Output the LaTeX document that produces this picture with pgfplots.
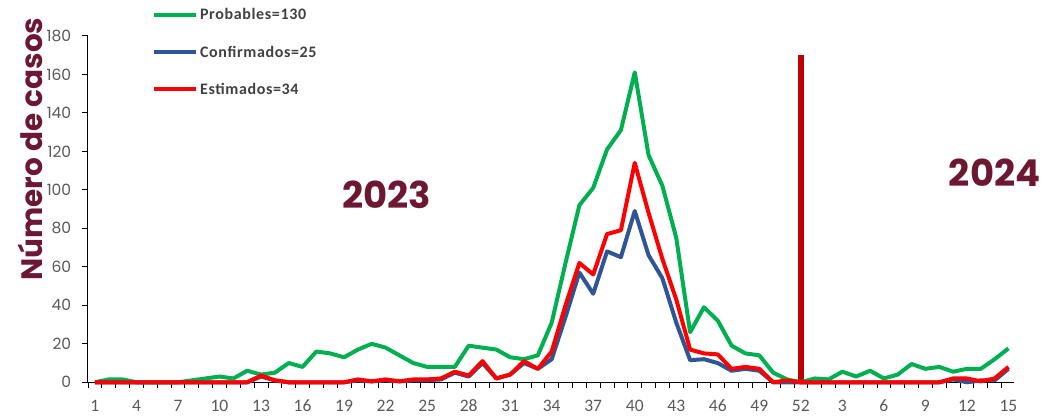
\documentclass[border=0pt]{standalone}
\usepackage{fontspec}
\setmainfont{Carlito}
\newfontfamily\pop{Poppins}
\usepackage{pgfplots}
\pgfplotsset{compat=1.18}
\definecolor{cgreen}{HTML}{00B050}
\definecolor{cblue}{HTML}{2F5597}
\definecolor{cred}{HTML}{FF0000}
\definecolor{cvline}{HTML}{C00000}
\definecolor{maroon}{HTML}{6D1832}
\definecolor{tickgray}{HTML}{595959}
\definecolor{leggray}{HTML}{404040}
\begin{document}
\begin{tikzpicture}
\path[use as bounding box] (-88pt,-34.7pt) rectangle (958pt,382.3pt);
\begin{axis}[
  at={(0pt,0pt)}, anchor=south west,
  scale only axis, width=926pt, height=346.5pt,
  xmin=-0.5, xmax=66.4, ymin=0, ymax=180,
  axis lines*=left,
  axis line style={black, line width=1pt},
  clip=false,
  tick align=outside,
  ytick={0,20,...,180},
  xtick={0,3,...,66},
  xticklabels={1,4,7,10,13,16,19,22,25,28,31,34,37,40,43,46,49,52,3,6,9,12,15},
  minor xtick={-0.5,0.5,...,66.5},
  xtick style={/pgfplots/major tick length=0pt},
  minor x tick style={black, line width=0.8pt, /pgfplots/minor tick length=5.5pt},
  ytick style={black, line width=1pt, /pgfplots/major tick length=6pt},
  /pgf/number format/assume math mode=true,
  xticklabel style={font=\fontsize{17.5}{17.5}\selectfont, text=tickgray, anchor=north, text height=12pt, text depth=0pt, yshift=-9pt},
  yticklabel style={font=\pop\fontsize{15.5}{15.5}\selectfont, text=tickgray, xshift=-9pt},
  legend style={at={(0.069,1.085)}, anchor=north west, draw=none, fill=none,
    font=\bfseries\fontsize{16}{16}\selectfont\addfontfeatures{LetterSpace=4}, text=leggray,
    row sep=20.5pt, column sep=0pt, inner sep=0pt,
    nodes={inner sep=2pt}},
  legend cell align=left,
  legend image code/.code={\draw[#1] (0pt,0pt) -- (42pt,0pt);},
]
\addplot[cvline, line width=6pt, forget plot] coordinates {(51,0) (51,170)};
\addplot[cgreen, line width=4pt, line join=round] coordinates {
(0,0) (1,1.5) (2,1.5) (3,0) (4,0) (5,0) (6,0) (7,1) (8,2) (9,3)
(10,2) (11,6) (12,4) (13,5) (14,10) (15,8) (16,16) (17,15) (18,13) (19,17)
(20,20) (21,18) (22,14) (23,10) (24,8) (25,8) (26,8) (27,19) (28,18) (29,17)
(30,13) (31,12) (32,14) (33,31) (34,62) (35,92) (36,101) (37,121) (38,131) (39,161)
(40,118) (41,102) (42,75) (43,26) (44,39) (45,32) (46,19) (47,15) (48,14) (49,5)
(50,1.5) (51,0) (52,2) (53,1.5) (54,5.5) (55,3) (56,6) (57,2) (58,4) (59,9.5)
(60,7) (61,8) (62,5.5) (63,7) (64,7) (65,12) (66,17.6)};
\addlegendentry{Probables=130}
\addplot[cblue, line width=4pt, line join=round] coordinates {
(0,0) (1,0) (2,0) (3,0) (4,0) (5,0) (6,0) (7,0) (8,0) (9,0)
(10,0) (11,0) (12,3) (13,1) (14,0) (15,0) (16,0) (17,0) (18,0) (19,1)
(20,0.5) (21,1) (22,0.5) (23,1) (24,1) (25,1.5) (26,5) (27,3) (28,10) (29,2)
(30,4) (31,10) (32,7) (33,12) (34,34) (35,57) (36,46) (37,68) (38,65) (39,89)
(40,66) (41,54) (42,31) (43,11.5) (44,12) (45,10) (46,6) (47,7) (48,6) (49,0)
(50,0) (51,0) (52,0) (53,0) (54,0) (55,0) (56,0) (57,0) (58,0) (59,0)
(60,0) (61,0) (62,1.5) (63,0) (64,1) (65,1) (66,7)};
\addlegendentry{Confirmados=25}
\addplot[cred, line width=4pt, line join=round] coordinates {
(0,0) (1,0) (2,0) (3,0) (4,0) (5,0) (6,0) (7,0) (8,0) (9,0)
(10,0) (11,0) (12,3.5) (13,1) (14,0) (15,0) (16,0) (17,0) (18,0) (19,1.5)
(20,0.5) (21,1.5) (22,0.5) (23,1.5) (24,1.5) (25,2) (26,5.5) (27,3.5) (28,11) (29,2)
(30,4) (31,11) (32,7) (33,16) (34,40) (35,62) (36,56) (37,77) (38,79) (39,114)
(40,88) (41,64) (42,43) (43,17) (44,15) (45,14.5) (46,7) (47,8) (48,7) (49,0)
(50,1) (51,0) (52,0) (53,0) (54,0) (55,0) (56,0) (57,0) (58,0) (59,0)
(60,0) (61,0) (62,2) (63,2) (64,0.5) (65,2) (66,8)};
\addlegendentry{Estimados=34}
\node[font=\pop\bfseries\fontsize{37}{37}\selectfont, text=maroon] at (axis cs:21.1,97.3) {2023};
\node[font=\pop\bfseries\fontsize{37}{37}\selectfont, text=maroon] at (axis cs:65,109) {2024};
\end{axis}
\node[rotate=90, font=\pop\bfseries\fontsize{29.5}{29.5}\selectfont, text=maroon] at (-58pt,233pt) {Número de casos};
\end{tikzpicture}
\end{document}
